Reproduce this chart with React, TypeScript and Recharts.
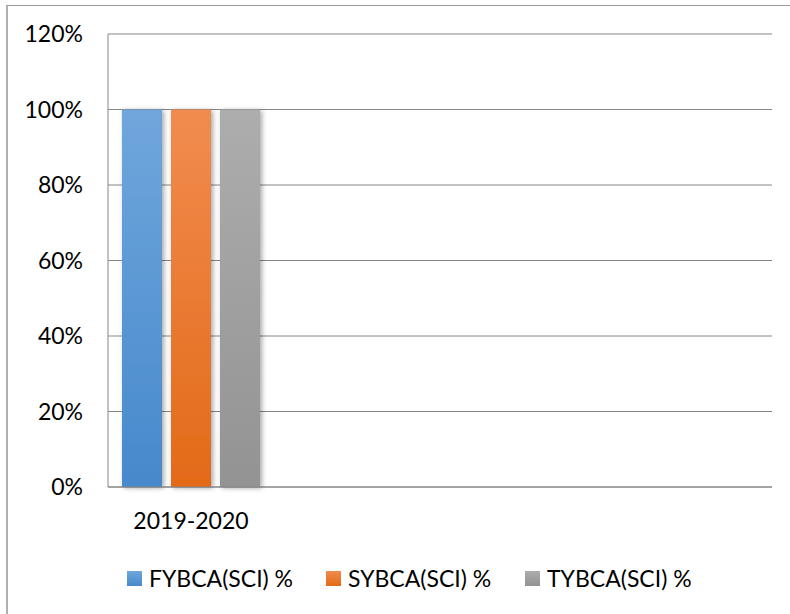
import { Bar, BarChart, CartesianGrid, XAxis, YAxis } from "recharts"

const categories = ["2019-2020", "", "", ""]
const fybca = [1, null, null, null]
const sybca = [1, null, null, null]
const tybca = [1, null, null, null]
const yTicks = [0, 0.2, 0.4, 0.6, 0.8, 1, 1.2]

const SERIES = [
  { key: "fy", name: "FYBCA(SCI) %", top: "#70a6dc", bottom: "#4689cc" },
  { key: "sy", name: "SYBCA(SCI) %", top: "#f18c4f", bottom: "#e36a18" },
  { key: "ty", name: "TYBCA(SCI) %", top: "#adadad", bottom: "#939393" },
]

const FONT = "Lato, 'Open Sans', sans-serif"

const data = categories.map((c, i) => ({
  name: c,
  fy: fybca[i],
  sy: sybca[i],
  ty: tybca[i],
}))

function LegendBox() {
  return (
    <div
      style={{
        position: "absolute",
        left: 127,
        top: 564,
        display: "flex",
        fontFamily: FONT,
        fontSize: 23,
        lineHeight: "28px",
        color: "#000",
      }}
    >
      {SERIES.map((s) => (
        <div key={s.key} style={{ width: 199, display: "flex", alignItems: "center" }}>
          <span
            style={{
              width: 15,
              height: 15,
              marginRight: 7,
              background: `linear-gradient(${s.top}, ${s.bottom})`,
            }}
          />
          <span>{s.name}</span>
        </div>
      ))}
    </div>
  )
}

export default function App() {
  return (
    <div style={{ position: "absolute", left: 0, top: 0, width: 790, height: 614, overflow: "hidden", background: "#fff" }}>
      <div
        style={{
          position: "absolute",
          left: 6,
          top: 5,
          width: 820,
          height: 640,
          borderTop: "1px solid #9a9a9a",
          borderLeft: "2px solid #b0b0b0",
        }}
      />
      <div style={{ position: "absolute", left: 0, top: 0 }}>
        <BarChart
          width={790}
          height={614}
          data={data}
          margin={{ top: 34, right: 18, left: 0, bottom: 0 }}
          barSize={40}
          barGap={9}
        >
          <defs>
            {SERIES.map((s) => (
              <linearGradient key={s.key} id={`grad-${s.key}`} x1="0" y1="0" x2="0" y2="1">
                <stop offset="0%" stopColor={s.top} />
                <stop offset="100%" stopColor={s.bottom} />
              </linearGradient>
            ))}
            <filter id="shadow" x="-30%" y="-10%" width="160%" height="120%">
              <feDropShadow dx="2" dy="1" stdDeviation="2.5" floodColor="#000" floodOpacity="0.35" />
            </filter>
          </defs>
          <CartesianGrid vertical={false} stroke="#868686" />
          <XAxis
            dataKey="name"
            height={127}
            tickLine={false}
            tickSize={0}
            tickMargin={26}
            stroke="#868686"
            tick={{ fill: "#000", fontSize: 23, fontFamily: FONT }}
          />
          <YAxis
            width={108}
            domain={[0, 1.2]}
            ticks={yTicks}
            tickLine={false}
            tickSize={0}
            tickMargin={25}
            stroke="#868686"
            tickFormatter={(v: number) => `${Math.round(v * 100)}%`}
            tick={{ fill: "#000", fontSize: 23, fontFamily: FONT }}
          />
          {SERIES.map((s) => (
            <Bar
              key={s.key}
              dataKey={s.key}
              name={s.name}
              fill={`url(#grad-${s.key})`}
              filter="url(#shadow)"
              isAnimationActive={false}
            />
          ))}
        </BarChart>
      </div>
      <LegendBox />
    </div>
  )
}
